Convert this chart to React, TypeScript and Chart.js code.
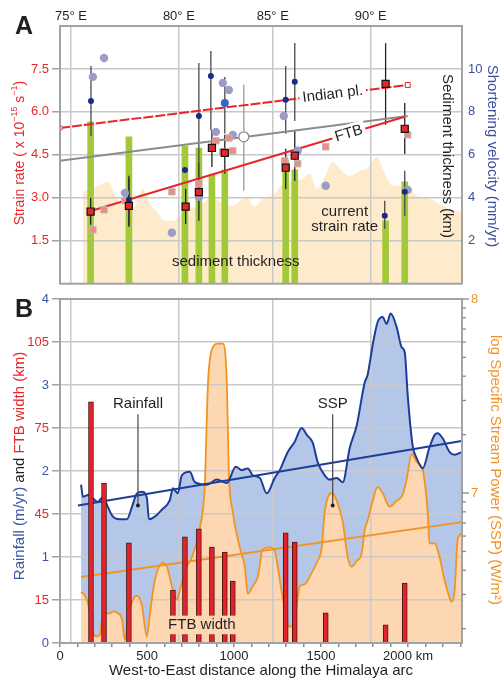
import React, { useEffect, useRef } from 'react';
import { Chart, registerables } from 'chart.js';

Chart.register(...registerables);

const FONT = '"Liberation Sans", Arial, Helvetica, sans-serif';
Chart.defaults.font.family = FONT;

const W = 503;
const X_MAX = 2310;
const RED = '#e8262a';
const BLUE_T = '#3d4fa3';
const ORANGE = '#f39322';
const GRID = '#c9c9c9';
const FRAME = '#a3a3a3';
const TXT = '#231f20';

// ---------- shared axis labels ----------
const LON_LABELS = ['75° E', '80° E', '85° E', '90° E'];
const LON_DIST = [63, 683, 1223, 1785];
const KM_TICKS = [0, 100, 200, 300, 400, 500, 600, 700, 800, 900, 1000, 1100, 1200, 1300, 1400, 1500, 1600, 1700, 1800, 1900, 2000, 2100, 2200, 2300];
const KM_LABELED = [0, 500, 1000, 1500, 2000];

// ---------- Panel A data ----------
const SED_DIST = [132, 172, 230, 276, 327, 385, 419, 476, 517, 557, 603, 649, 718, 804, 878, 936, 993, 1073, 1119, 1165, 1234, 1280, 1349, 1395, 1435, 1475, 1521, 1567, 1619, 1665, 1722, 1762, 1820, 1854, 1912, 1992, 2049, 2124, 2239, 2308];
const SED_KM = [4.28, 4.42, 4.6, 4.74, 3.95, 3.63, 3.49, 4.42, 3.72, 3.35, 2.93, 2.93, 3.4, 3.63, 4.05, 3.72, 3.63, 4.05, 3.58, 3.95, 4.19, 4.65, 4.79, 4.88, 5.12, 4.42, 4.98, 5.67, 5.26, 5.02, 5.26, 5.35, 5.91, 5.35, 4.56, 4.56, 4.09, 3.95, 3.49, 3.35];

const GREEN_DIST = [176, 396, 718, 798, 873, 947, 1297, 1349, 1871, 1981];
const GREEN_RATE = [5.65, 5.13, 4.81, 4.74, 3.8, 3.98, 4.29, 3.98, 2.2, 3.56];

const SQ_DIST = [176, 396, 722, 798, 873, 947, 1297, 1349, 1871, 1981];
const SQ_RATE = [2.52, 2.72, 2.69, 3.2, 4.74, 4.57, 4.05, 4.47, 6.98, 5.41];
const SQ_LO = [2.06, 1.99, 2.09, 2.2, 4.08, 3.84, 3.31, 3.59, 5.55, 4.53];
const SQ_HI = [3.0, 3.77, 3.31, 4.22, 5.37, 5.2, 4.71, 5.34, 8.4, 6.31];

const PINK_DIST = [189, 253, 373, 643, 798, 896, 936, 970, 993, 1292, 1366, 1527, 1998];
const PINK_RATE = [1.88, 2.58, 2.9, 3.21, 3.49, 4.99, 4.6, 5.09, 4.64, 4.29, 4.19, 4.78, 5.2];

const BLUE_DIST = [178, 396, 718, 798, 867, 1297, 1349, 1866, 1981];
const BLUE_V = [8.51, 3.91, 5.3, 7.81, 9.67, 8.56, 9.4, 3.16, 4.28];
const BLUE_LO = [6.88, 2.7, 5.3, 5.63, 7.16, 6.98, 7.58, 2.56, 3.16];
const BLUE_HI = [10.14, 4.9, 5.3, 10.28, 10.84, 10.14, 11.21, 3.86, 5.26];

const BRIGHT_DIST = [947];
const BRIGHT_V = [8.42];
const BRIGHT_LO = [7.0];
const BRIGHT_HI = [9.63];

const PURPLE_DIST = [189, 253, 373, 643, 798, 896, 936, 970, 993, 1286, 1366, 1527, 1998];
const PURPLE_V = [9.63, 10.51, 4.23, 2.37, 4.05, 7.07, 9.35, 9.02, 6.93, 7.81, 6.19, 4.56, 4.37];

const OPEN_DIST = [1056];
const OPEN_V = [6.84];
const OPEN_LO = [4.33];
const OPEN_HI = [9.26];

const INDIAN_X = [0, 1998];
const INDIAN_Y = [5.44, 6.94];
const FTBTR_X = [176, 1981];
const FTBTR_Y = [2.54, 5.83];
const GREYTR_X = [0, 1998];
const GREYTR_Y = [4.29, 5.86];

// ---------- Panel B data ----------
const RAIN_DIST = [121, 132, 161, 218, 241, 304, 344, 385, 413, 442, 471, 499, 511, 545, 585, 631, 649, 677, 700, 746, 775, 844, 901, 959, 1010, 1045, 1079, 1108, 1148, 1188, 1234, 1263, 1309, 1349, 1389, 1418, 1452, 1481, 1521, 1550, 1590, 1625, 1665, 1705, 1751, 1768, 1797, 1825, 1854, 1877, 1900, 1935, 1963, 1981, 1998, 2026, 2049, 2084, 2124, 2153, 2170, 2199, 2239, 2268, 2308];
const RAIN = [1.84, 1.7, 1.72, 1.64, 1.69, 1.47, 1.44, 1.44, 1.58, 1.74, 1.76, 1.69, 1.44, 1.47, 1.55, 1.66, 1.8, 1.74, 1.95, 1.99, 1.87, 1.84, 1.9, 1.86, 2.05, 2.01, 2.03, 1.95, 1.92, 1.74, 1.92, 2.01, 2.22, 2.34, 2.5, 2.42, 2.33, 2.1, 1.95, 1.9, 1.92, 1.87, 2.27, 2.53, 3.03, 3.12, 3.47, 3.73, 3.79, 3.71, 3.83, 3.67, 3.44, 3.38, 2.88, 2.3, 2.15, 2.03, 2.28, 2.42, 2.44, 2.38, 2.22, 2.19, 2.22];

const SSP_DIST = [121, 144, 161, 189, 212, 230, 247, 287, 304, 333, 356, 373, 390, 419, 442, 471, 499, 517, 545, 591, 614, 649, 672, 689, 729, 758, 804, 832, 850, 873, 907, 936, 959, 970, 993, 1033, 1062, 1079, 1108, 1137, 1165, 1206, 1234, 1251, 1280, 1320, 1349, 1378, 1406, 1447, 1475, 1504, 1521, 1561, 1590, 1625, 1653, 1676, 1705, 1734, 1751, 1768, 1797, 1825, 1854, 1894, 1935, 1969, 1992, 2021, 2049, 2084, 2113, 2124, 2153, 2181, 2210, 2239, 2250, 2268, 2285, 2308];
const SSP_LOG = [6.49, 6.47, 6.43, 6.28, 6.26, 6.27, 6.38, 6.38, 6.39, 6.38, 6.35, 6.24, 6.35, 6.45, 6.47, 6.42, 6.26, 6.38, 6.55, 6.64, 6.62, 6.5, 6.45, 6.5, 6.62, 6.67, 6.82, 7.04, 7.56, 7.74, 7.77, 7.77, 7.56, 7.11, 6.9, 6.72, 6.62, 6.48, 6.52, 6.57, 6.71, 6.72, 6.7, 6.62, 6.46, 6.31, 6.35, 6.52, 6.53, 6.59, 6.64, 6.72, 6.9, 7.0, 6.96, 6.85, 6.67, 6.62, 6.65, 6.69, 6.81, 6.86, 6.96, 7.03, 7.0, 6.93, 6.96, 6.99, 7.07, 7.2, 7.16, 7.12, 6.9, 6.74, 6.74, 6.67, 6.55, 6.46, 6.44, 6.5, 6.76, 6.79];

const FTB_DIST = [178, 253, 396, 649, 718, 798, 873, 947, 993, 1297, 1349, 1527, 1871, 1981];
const FTB_WIDTH = [84.1, 55.8, 34.9, 18.5, 37.0, 39.8, 33.5, 31.7, 21.6, 38.4, 35.2, 10.5, 6.3, 20.9];

const RAINTR_X = [103, 2308];
const RAINTR_Y = [1.6, 2.35];
const SSPTR_X = [121, 2308];
const SSPTR_Y = [6.567, 6.85];

const SSP_DECADES = [6, 7];
const SSP_MULT = [2, 3, 4, 5, 6, 7, 8, 9];
const SSP_MIN = 6.227;
const SSP_MAX = 8;

// ---------- helpers ----------
const pts = (xs: number[], ys: number[]) => xs.map((x, i) => ({ x, y: ys[i] }));

const fitW = (w: number) => (s: any) => {
  s.width = w;
  s.paddingTop = 0;
  s.paddingBottom = 0;
};
const fitH = (h: number) => (s: any) => {
  s.height = h;
  s.paddingLeft = 0;
  s.paddingRight = 0;
};

type Seg = { t: string; c?: string; s?: number; dy?: number; b?: boolean };
function rich(ctx: CanvasRenderingContext2D, cx: number, cy: number, angle: number, segs: Seg[], base = 15, bg?: string) {
  ctx.save();
  ctx.translate(cx, cy);
  ctx.rotate(angle);
  ctx.textBaseline = 'middle';
  ctx.textAlign = 'left';
  let total = 0;
  const widths = segs.map((s) => {
    ctx.font = `${s.b ? 'bold ' : ''}${s.s || base}px ${FONT}`;
    const w = ctx.measureText(s.t).width;
    total += w;
    return w;
  });
  if (bg) {
    ctx.fillStyle = bg;
    ctx.fillRect(-total / 2 - 3, -base * 0.62, total + 6, base * 1.24);
  }
  let x = -total / 2;
  segs.forEach((s, i) => {
    ctx.font = `${s.b ? 'bold ' : ''}${s.s || base}px ${FONT}`;
    ctx.fillStyle = s.c || TXT;
    ctx.fillText(s.t, x, s.dy || 0);
    x += widths[i];
  });
  ctx.restore();
}

function frame(chart: any) {
  const { ctx, chartArea: a } = chart;
  ctx.save();
  ctx.strokeStyle = FRAME;
  ctx.lineWidth = 2;
  ctx.strokeRect(a.left, a.top, a.right - a.left, a.bottom - a.top);
  ctx.restore();
}

function lineLabel(chart: any, xs: number[], ys: number[], d: number, text: string) {
  const x = chart.scales.x, y = chart.scales.y;
  const x0 = x.getPixelForValue(xs[0]), y0 = y.getPixelForValue(ys[0]);
  const x1 = x.getPixelForValue(xs[1]), y1 = y.getPixelForValue(ys[1]);
  const t = (d - xs[0]) / (xs[1] - xs[0]);
  rich(chart.ctx, x0 + t * (x1 - x0), y0 + t * (y1 - y0), Math.atan2(y1 - y0, x1 - x0), [{ t: text }], 15, '#ffffff');
}

// ---------- Panel A ----------
const pluginA = {
  id: 'annotA',
  afterDatasetDraw(chart: any, args: any) {
    if (chart.data.datasets[args.index].label !== 'Current strain rate') return;
    const { ctx } = chart;
    const x = chart.scales.x, y = chart.scales.y, y2 = chart.scales.y2;
    const seg = (d: number, lo: number, hi: number, sc: any) => {
      const px = x.getPixelForValue(d);
      ctx.beginPath();
      ctx.moveTo(px, sc.getPixelForValue(lo));
      ctx.lineTo(px, sc.getPixelForValue(hi));
      ctx.stroke();
    };
    ctx.save();
    ctx.lineWidth = 1.3;
    ctx.strokeStyle = '#9a9a9a';
    OPEN_DIST.forEach((d, i) => seg(d, OPEN_LO[i], OPEN_HI[i], y2));
    ctx.strokeStyle = '#4a4a4a';
    BLUE_DIST.forEach((d, i) => seg(d, BLUE_LO[i], BLUE_HI[i], y2));
    BRIGHT_DIST.forEach((d, i) => seg(d, BRIGHT_LO[i], BRIGHT_HI[i], y2));
    ctx.strokeStyle = '#222';
    SQ_DIST.forEach((d, i) => seg(d, SQ_LO[i], SQ_HI[i], y));
    ctx.restore();
  },
  afterDatasetsDraw(chart: any) {
    const { ctx } = chart;
    const x = chart.scales.x, y = chart.scales.y;
    frame(chart);
    lineLabel(chart, INDIAN_X, INDIAN_Y, 1567, 'Indian pl.');
    lineLabel(chart, FTBTR_X, FTBTR_Y, 1660, 'FTB');
    rich(ctx, x.getPixelForValue(1636), y.getPixelForValue(2.51), 0, [{ t: 'current' }]);
    rich(ctx, x.getPixelForValue(1636), y.getPixelForValue(1.99), 0, [{ t: 'strain rate' }]);
    rich(ctx, x.getPixelForValue(1010), y.getPixelForValue(0.77), 0, [{ t: 'sediment thickness' }]);
    rich(ctx, x.getPixelForValue(2222), y.getPixelForValue(4.46), Math.PI / 2, [{ t: 'Sediment thickness (km)' }]);
  },
  afterDraw(chart: any) {
    const { ctx } = chart;
    rich(ctx, 24, 27, 0, [{ t: 'A', b: true, s: 25 }]);
    rich(ctx, 20, 153, -Math.PI / 2, [
      { t: 'Strain rate ( x 10', c: RED },
      { t: '−15', c: RED, s: 9, dy: -5 },
      { t: ' s', c: RED },
      { t: '−1', c: RED, s: 9, dy: -5 },
      { t: ')', c: RED },
    ], 14);
    rich(ctx, 492, 156, Math.PI / 2, [{ t: 'Shortening velocity (mm/yr)', c: BLUE_T }], 15);
  },
};

function cfgA(): any {
  return {
    type: 'line',
    data: {
      datasets: [
        { label: 'Sediment thickness', data: pts(SED_DIST, SED_KM), yAxisID: 'y2', fill: 'start', backgroundColor: '#feebcb', borderColor: 'rgba(0,0,0,0)', borderWidth: 0, pointRadius: 0, cubicInterpolationMode: 'monotone', order: 20 },
        { label: 'Current strain rate', type: 'bar', data: pts(GREEN_DIST, GREEN_RATE), yAxisID: 'y', backgroundColor: '#a2c93a', barThickness: 6, order: 15 },
        { label: 'Trend', data: pts(GREYTR_X, GREYTR_Y), yAxisID: 'y', borderColor: '#8c8c8c', borderWidth: 2, pointRadius: 0, order: 8 },
        { label: 'Indian pl.', data: pts(INDIAN_X, INDIAN_Y), yAxisID: 'y', borderColor: RED, borderWidth: 2, borderDash: [10, 2], pointRadius: [2.5, 3.5], pointStyle: ['circle', 'rect'], pointBackgroundColor: '#fff', pointBorderColor: RED, pointBorderWidth: 1, order: 7 },
        { label: 'FTB', data: pts(FTBTR_X, FTBTR_Y), yAxisID: 'y', borderColor: RED, borderWidth: 2, pointRadius: 0, order: 7 },
        { label: 'Velocity (other)', data: pts(PURPLE_DIST, PURPLE_V), yAxisID: 'y2', showLine: false, pointRadius: 4.2, pointBackgroundColor: '#9c9cc8', pointBorderWidth: 0, order: 5 },
        { label: 'Strain rate (other)', data: pts(PINK_DIST, PINK_RATE), yAxisID: 'y', showLine: false, pointStyle: 'rect', pointRadius: 4.5, pointBackgroundColor: '#f08a84', pointBorderColor: '#b8b8b8', pointBorderWidth: 1, order: 4 },
        { label: 'Shortening velocity', data: pts(BLUE_DIST, BLUE_V), yAxisID: 'y2', showLine: false, pointRadius: 3, pointBackgroundColor: '#1b2a85', pointBorderWidth: 0, order: 3 },
        { label: 'Shortening velocity 2', data: pts(BRIGHT_DIST, BRIGHT_V), yAxisID: 'y2', showLine: false, pointRadius: 4, pointBackgroundColor: '#3565c6', pointBorderWidth: 0, order: 3 },
        { label: 'Open', data: pts(OPEN_DIST, OPEN_V), yAxisID: 'y2', showLine: false, pointRadius: 5, pointBackgroundColor: '#ffffff', pointBorderColor: '#8c8c8c', pointBorderWidth: 1.3, order: 2 },
        { label: 'Strain rate', data: pts(SQ_DIST, SQ_RATE), yAxisID: 'y', showLine: false, pointStyle: 'rect', pointRadius: 5, pointBackgroundColor: RED, pointBorderColor: '#111', pointBorderWidth: 1.2, order: 1 },
      ],
    },
    options: {
      responsive: false,
      animation: false,
      devicePixelRatio: 1,
      layout: { padding: { left: 0, right: 0, top: 0, bottom: 5 } },
      plugins: { legend: { display: false }, tooltip: { enabled: false }, filler: { drawTime: 'beforeDraw' } },
      scales: {
        x: { type: 'linear', min: 0, max: X_MAX, display: false, offset: false, grid: { offset: false } },
        xTop: {
          type: 'linear', position: 'top', min: 0, max: X_MAX, offset: false,
          afterBuildTicks: (s: any) => { s.ticks = LON_DIST.map((v) => ({ value: v })); },
          afterFit: fitH(26),
          grid: { color: GRID, lineWidth: 1.5, drawTicks: false, offset: false },
          border: { display: false },
          ticks: { autoSkip: false, maxRotation: 0, padding: 2, color: TXT, font: { size: 13 }, callback: (_v: any, i: number) => LON_LABELS[i] },
        },
        y: {
          position: 'left', min: 0, max: 9,
          afterFit: fitW(60),
          grid: { color: GRID, lineWidth: 1.5, tickLength: 8, tickColor: FRAME, tickWidth: 1.5 },
          border: { display: false },
          ticks: { stepSize: 1.5, color: RED, font: { size: 13 }, padding: 3, callback: (v: number) => (v <= 0 || v >= 9 ? null : v.toFixed(1)) },
        },
        y2: {
          position: 'right', min: 0, max: 12,
          afterFit: fitW(41),
          grid: { display: false, drawTicks: false },
          border: { display: false },
          ticks: { stepSize: 2, color: BLUE_T, font: { size: 13 }, padding: 6, callback: (v: number) => (v <= 0 || v >= 12 ? null : String(v)) },
        },
      },
    },
    plugins: [pluginA],
  };
}

// ---------- Panel B ----------
const SSP_TICKS: number[] = [];
SSP_DECADES.forEach((d) => {
  SSP_MULT.forEach((m) => SSP_TICKS.push(d + Math.log10(m)));
  SSP_TICKS.push(d + 1);
});

const pluginB = {
  id: 'annotB',
  afterDatasetsDraw(chart: any) {
    const { ctx } = chart;
    const x = chart.scales.x, y = chart.scales.y, yF = chart.scales.yF;
    frame(chart);
    const leader = (d: number, top: number, bot: number) => {
      const px = x.getPixelForValue(d);
      ctx.save();
      ctx.strokeStyle = '#444';
      ctx.lineWidth = 1.2;
      ctx.beginPath();
      ctx.moveTo(px, y.getPixelForValue(top));
      ctx.lineTo(px, y.getPixelForValue(bot));
      ctx.stroke();
      ctx.fillStyle = '#222';
      ctx.beginPath();
      ctx.arc(px, y.getPixelForValue(bot), 2, 0, Math.PI * 2);
      ctx.fill();
      ctx.restore();
    };
    leader(448, 2.66, 1.6);
    leader(1567, 2.66, 1.6);
    rich(ctx, x.getPixelForValue(448), y.getPixelForValue(2.78), 0, [{ t: 'Rainfall' }]);
    rich(ctx, x.getPixelForValue(1567), y.getPixelForValue(2.78), 0, [{ t: 'SSP' }]);
    rich(ctx, x.getPixelForValue(815), yF.getPixelForValue(6.3), 0, [{ t: 'FTB width' }], 15, '#fcd7b2');
  },
  afterDraw(chart: any) {
    const { ctx, chartArea: a } = chart;
    const ys = chart.scales.ys;
    ctx.save();
    ctx.strokeStyle = '#8a8a8a';
    ctx.lineWidth = 1.3;
    ys.ticks.forEach((t: any) => {
      const py = ys.getPixelForValue(t.value);
      const len = Math.abs(t.value - Math.round(t.value)) < 1e-6 ? 7 : 4;
      ctx.beginPath();
      ctx.moveTo(a.right, py);
      ctx.lineTo(a.right + len, py);
      ctx.stroke();
    });
    ctx.restore();
    rich(ctx, 24, 20, 0, [{ t: 'B', b: true, s: 25 }]);
    rich(ctx, 20, 176, -Math.PI / 2, [
      { t: 'Rainfall (m/yr)', c: '#3a56a8' },
      { t: ' and ', c: TXT },
      { t: 'FTB width (km)', c: RED },
    ], 15);
    rich(ctx, 495, 180, Math.PI / 2, [{ t: 'log Specific Stream Power (SSP) (W/m²)', c: ORANGE }], 15);
    rich(ctx, 261, 381, 0, [{ t: 'West-to-East distance along the Himalaya arc' }], 15);
  },
};

function cfgB(): any {
  return {
    type: 'line',
    data: {
      datasets: [
        { label: 'Rainfall area', data: pts(RAIN_DIST, RAIN), yAxisID: 'y', fill: 'origin', backgroundColor: '#b5c7e8', borderColor: 'rgba(0,0,0,0)', borderWidth: 0, pointRadius: 0, cubicInterpolationMode: 'monotone', order: 20 },
        { label: 'SSP area', data: pts(SSP_DIST, SSP_LOG), yAxisID: 'ys', fill: 'start', backgroundColor: '#fcd7b2', borderColor: 'rgba(0,0,0,0)', borderWidth: 0, pointRadius: 0, cubicInterpolationMode: 'monotone', order: 19 },
        { label: 'SSP', data: pts(SSP_DIST, SSP_LOG), yAxisID: 'ys', borderColor: ORANGE, borderWidth: 1.8, pointRadius: 0, cubicInterpolationMode: 'monotone', order: 7 },
        { label: 'Rainfall', data: pts(RAIN_DIST, RAIN), yAxisID: 'y', borderColor: '#1e3d98', borderWidth: 2, pointRadius: 0, cubicInterpolationMode: 'monotone', order: 6 },
        { label: 'SSP trend', data: pts(SSPTR_X, SSPTR_Y), yAxisID: 'ys', borderColor: ORANGE, borderWidth: 2, pointRadius: 0, order: 5 },
        { label: 'Rainfall trend', data: pts(RAINTR_X, RAINTR_Y), yAxisID: 'y', borderColor: '#1e3d98', borderWidth: 2, pointRadius: 0, order: 5 },
        { label: 'FTB width', type: 'bar', data: pts(FTB_DIST, FTB_WIDTH), yAxisID: 'yF', backgroundColor: '#e4222a', borderColor: '#4b1515', borderWidth: 1, barThickness: 5, order: 1 },
      ],
    },
    options: {
      responsive: false,
      animation: false,
      devicePixelRatio: 1,
      layout: { padding: 0 },
      plugins: { legend: { display: false }, tooltip: { enabled: false }, filler: { drawTime: 'beforeDraw' } },
      scales: {
        x: {
          type: 'linear', position: 'bottom', min: 0, max: X_MAX, offset: false,
          afterBuildTicks: (s: any) => { s.ticks = KM_TICKS.map((v) => ({ value: v })); },
          afterFit: fitH(36),
          grid: { drawOnChartArea: false, tickLength: 4, color: '#8a8a8a', lineWidth: 1.5, offset: false },
          border: { display: false },
          ticks: {
            autoSkip: false, maxRotation: 0, padding: 2, color: TXT, font: { size: 13 },
            callback: (_v: any, i: number) => {
              const k = KM_TICKS[i];
              if (KM_LABELED.indexOf(k) < 0) return '';
              return k === 2000 ? '2000 km' : String(k);
            },
          },
        },
        xTop: {
          type: 'linear', position: 'top', min: 0, max: X_MAX, offset: false,
          afterBuildTicks: (s: any) => { s.ticks = LON_DIST.map((v) => ({ value: v })); },
          afterFit: fitH(9),
          grid: { color: GRID, lineWidth: 1.5, drawTicks: false, offset: false },
          border: { display: false },
          ticks: { display: false },
        },
        y: {
          position: 'left', min: 0, max: 4,
          afterFit: fitW(60),
          grid: { color: GRID, lineWidth: 1.5, tickLength: 8, tickColor: FRAME, tickWidth: 1.5 },
          border: { display: false },
          ticks: {
            stepSize: 0.5, font: { size: 13 }, padding: 3,
            color: (c: any) => (Number.isInteger(c.tick.value) ? '#3a56a8' : RED),
            callback: (v: number) => (Number.isInteger(v) ? String(v) : String(Math.round(v * 30))),
          },
        },
        yF: { display: false, min: 0, max: 120 },
        ys: {
          position: 'right', min: SSP_MIN, max: SSP_MAX,
          afterBuildTicks: (s: any) => { s.ticks = SSP_TICKS.filter((v) => v >= SSP_MIN - 1e-9).map((v) => ({ value: v })); },
          afterFit: fitW(41),
          grid: { display: false, drawTicks: false },
          border: { display: false },
          ticks: { autoSkip: false, padding: 9, color: ORANGE, font: { size: 13 }, callback: (v: number) => (Math.abs(v - Math.round(v)) < 1e-6 ? String(Math.round(v)) : '') },
        },
      },
    },
    plugins: [pluginB],
  };
}

export default function App() {
  const refA = useRef<HTMLCanvasElement>(null);
  const refB = useRef<HTMLCanvasElement>(null);
  useEffect(() => {
    const a = new Chart(refA.current as HTMLCanvasElement, cfgA());
    const b = new Chart(refB.current as HTMLCanvasElement, cfgB());
    return () => {
      a.destroy();
      b.destroy();
    };
  }, []);
  return (
    <div style={{ position: 'absolute', left: 0, top: 0, width: W, height: 679, background: '#fff' }}>
      <canvas ref={refA} width={W} height={290} style={{ position: 'absolute', left: 0, top: 0, width: W, height: 290 }} />
      <canvas ref={refB} width={W} height={389} style={{ position: 'absolute', left: 0, top: 290, width: W, height: 389 }} />
    </div>
  );
}
